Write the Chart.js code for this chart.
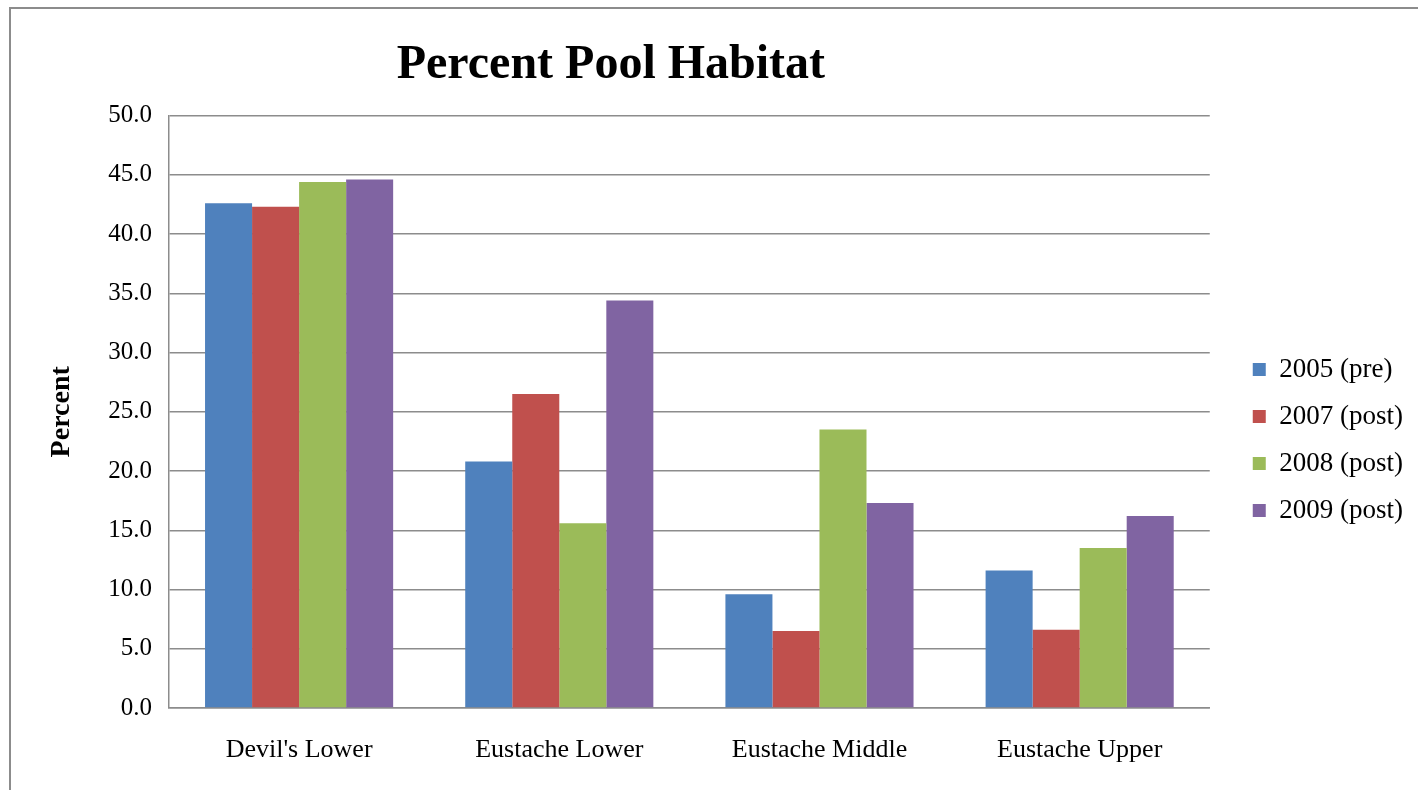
<!DOCTYPE html>
<html>
<head>
<meta charset="utf-8">
<script src="https://cdn.jsdelivr.net/npm/chart.js@4/dist/chart.umd.min.js"></script>
<style>
  html, body { margin: 0; padding: 0; background: #fff; overflow: hidden; }
  #frame {
    position: absolute; left: 9px; top: 7px; width: 1500px; height: 900px;
    border-left: 2px solid #8c8c8c; border-top: 2px solid #8c8c8c;
  }
  #wrap { position: absolute; left: 0; top: 0; width: 1418px; height: 790px; }
</style>
</head>
<body>
<div id="frame"></div>
<div id="wrap"><canvas id="chart"></canvas></div>
<script>
const categories = ["Devil's Lower", "Eustache Lower", "Eustache Middle", "Eustache Upper"];
const seriesNames = ["2005 (pre)", "2007 (post)", "2008 (post)", "2009 (post)"];
const pre2005 = [42.6, 20.8, 9.6, 11.6];
const post2007 = [42.3, 26.5, 6.5, 6.6];
const post2008 = [44.4, 15.6, 23.5, 13.5];
const post2009 = [44.6, 34.4, 17.3, 16.2];
const colors = ['#4F81BD', '#C0504D', '#9BBB59', '#8064A2'];

const serif = '"Liberation Serif", "Times New Roman", serif';
const seriesValues = [pre2005, post2007, post2008, post2009];

// centre the title over the plot + axis, not over the legend
const titleOverPlot = {
  id: 'titleOverPlot',
  afterLayout(chart) {
    const t = chart.titleBlock;
    if (t) {
      t.right = chart.chartArea.right;
      t.width = t.right - t.left;
    }
  },
};

const ctx = document.getElementById('chart').getContext('2d');
new Chart(ctx, {
  type: 'bar',
  data: {
    labels: categories,
    datasets: seriesValues.map((vals, i) => ({
      label: seriesNames[i],
      data: vals,
      backgroundColor: colors[i],
      borderWidth: 0,
      categoryPercentage: 0.723,
      barPercentage: 1.0,
    })),
  },
  plugins: [titleOverPlot],
  options: {
    responsive: true,
    maintainAspectRatio: false,
    animation: false,
    layout: { padding: { left: 12, right: 5, top: 0, bottom: 25 } },
    plugins: {
      title: {
        display: true,
        text: 'Percent Pool Habitat',
        color: '#000',
        font: { family: serif, size: 48, weight: 'bold' },
        padding: { top: 37, bottom: 21 },
      },
      legend: {
        position: 'right',
        title: {
          display: true,
          text: ' ',
          font: { size: 16 },
          padding: 48,
        },
        labels: {
          color: '#000',
          font: { family: serif, size: 27 },
          boxWidth: 13,
          boxHeight: 13,
          padding: 20,
        },
      },
      tooltip: { enabled: false },
    },
    scales: {
      x: {
        grid: { display: false, drawTicks: false },
        border: { display: true, color: '#8c8c8c', width: 1.5 },
        ticks: { color: '#000', font: { family: serif, size: 26 }, padding: 27 },
        afterFit(scale) { scale.height = 57; },
      },
      y: {
        min: 0,
        max: 50,
        ticks: {
          stepSize: 5,
          color: '#000',
          font: { family: serif, size: 25 },
          padding: 17,
          callback: (v) => v.toFixed(1),
        },
        grid: { color: '#8c8c8c', lineWidth: 1.5, drawTicks: false },
        border: { display: true, color: '#8c8c8c', width: 1.5 },
        title: {
          display: true,
          text: 'Percent',
          color: '#000',
          font: { family: serif, size: 28, weight: 'bold' },
          padding: { top: 33, bottom: 0 },
        },
        afterFit(scale) { scale.width = 157; },
      },
      gap: {
        type: 'linear',
        position: 'right',
        display: true,
        grid: { display: false, drawTicks: false },
        border: { display: false },
        ticks: { display: false },
        afterFit(scale) { scale.width = 23; },
      },
    },
  },
});
</script>
</body>
</html>
